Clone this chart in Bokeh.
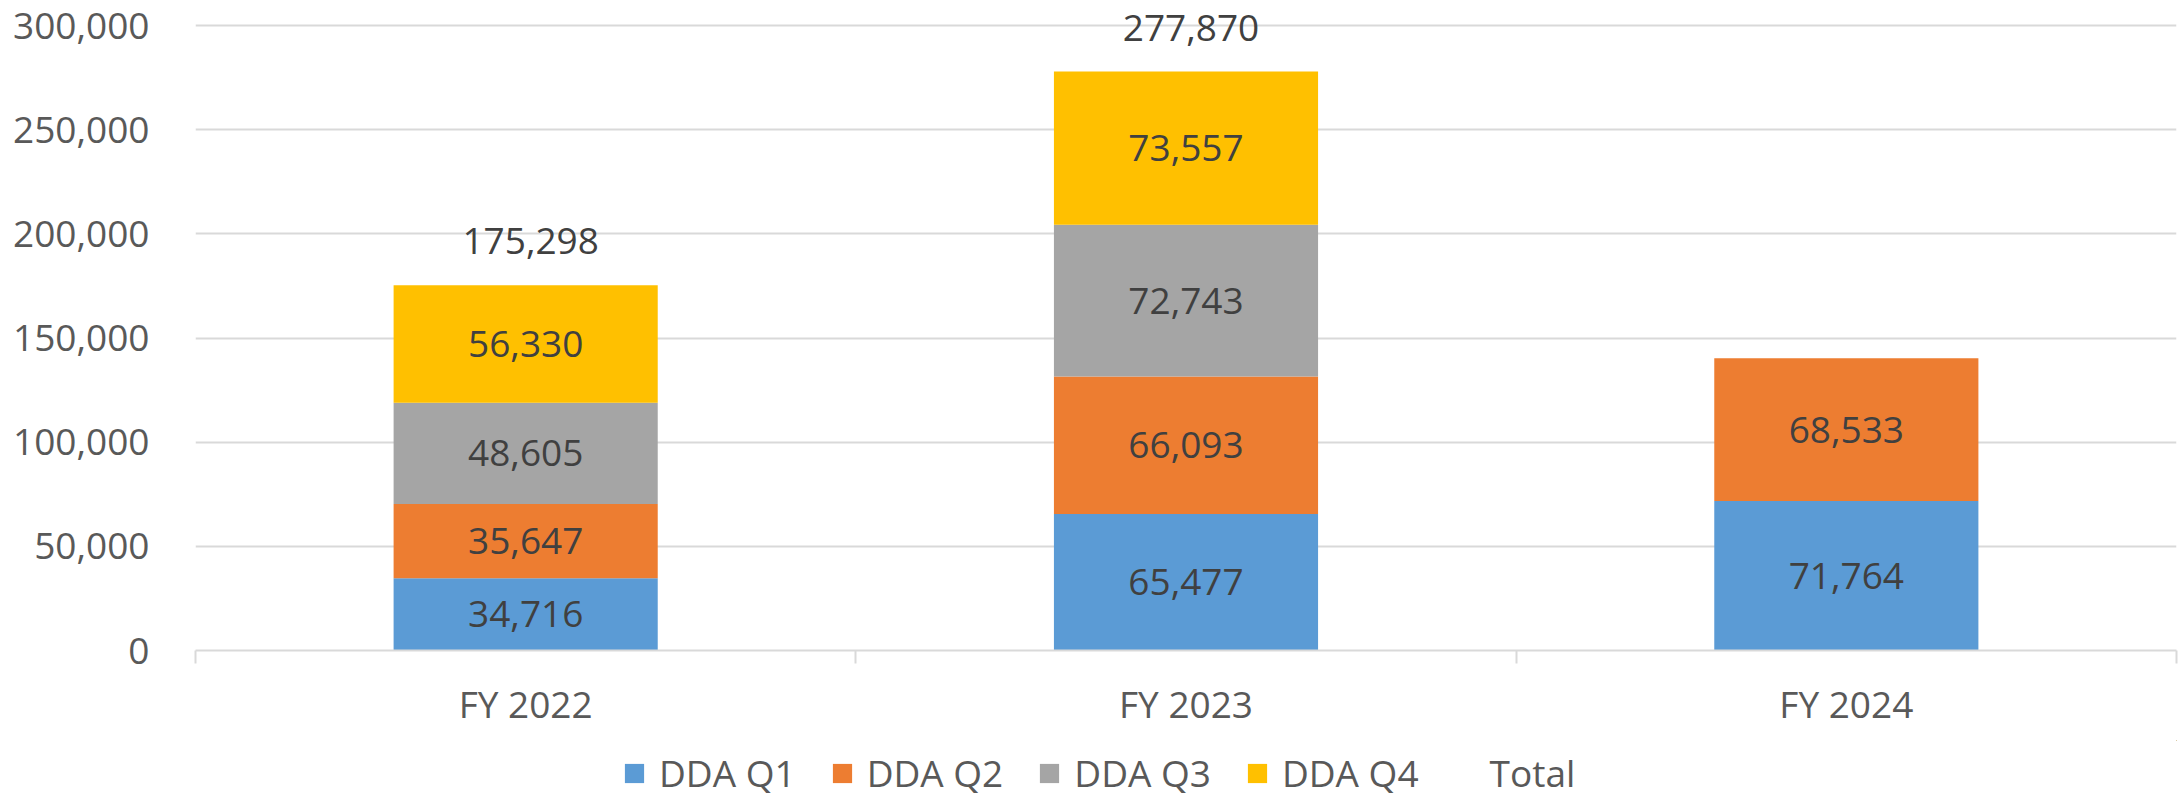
from bokeh.plotting import figure
from bokeh.layouts import column
from bokeh.models import (ColumnDataSource, Range1d, LinearAxis,
                          FixedTicker, NumeralTickFormatter, Legend, LegendItem)
from bokeh.core.properties import value
from bokeh.embed import file_html
from bokeh.resources import INLINE

# ---- data ----
years = ["FY 2022", "FY 2023", "FY 2024"]
series = ["DDA Q1", "DDA Q2", "DDA Q3", "DDA Q4"]
q1 = [34716, 65477, 71764]
q2 = [35647, 66093, 68533]
q3 = [48605, 72743, 0]
q4 = [56330, 73557, 0]
totals = [175298, 277870, None]
y_ticks = [0, 50000, 100000, 150000, 200000, 250000, 300000]
colors = ["#5B9BD5", "#ED7D31", "#A5A5A5", "#FFC000"]

FONT = "Open Sans"
FS = "37px"

# category slots: each year occupies one unit on the x scale
xpos = [i + 0.5 for i in range(len(years))]
bounds = list(range(len(years) + 1))

p = figure(width=2183, height=740, x_range=Range1d(0, len(years)), y_range=Range1d(0, 307200),
           output_backend="svg", toolbar_location=None, x_axis_location=None,
           min_border_left=195, min_border_right=7, min_border_top=10, min_border_bottom=90)
p.outline_line_color = None
p.xgrid.grid_line_color = None
p.ygrid.ticker = FixedTicker(ticks=y_ticks)
p.ygrid.grid_line_color = "#D9D9D9"
p.ygrid.grid_line_width = 2

# y axis
yax = p.yaxis[0]
yax.ticker = FixedTicker(ticks=y_ticks)
yax.formatter = NumeralTickFormatter(format="0,0")
yax.axis_line_color = None
yax.major_tick_line_color = None
yax.minor_tick_line_color = None
yax.major_label_standoff = 40
yax.major_label_text_font = FONT
yax.major_label_text_font_size = FS
yax.major_label_text_color = "#595959"

# x axis: labels at category centres, tick marks at category boundaries
cat_axis = LinearAxis(ticker=FixedTicker(ticks=xpos, minor_ticks=bounds),
                      major_label_overrides={x: y for x, y in zip(xpos, years)},
                      major_tick_line_color=None, major_tick_in=0, major_tick_out=0,
                      minor_tick_in=0, minor_tick_out=13, minor_tick_line_color="#D9D9D9",
                      minor_tick_line_width=2,
                      axis_line_color="#D9D9D9", axis_line_width=2,
                      major_label_text_font=FONT, major_label_text_font_size=FS,
                      major_label_text_color="#595959", major_label_standoff=14)
p.add_layout(cat_axis, "below")

# stacked bars
src = ColumnDataSource(dict(x=xpos, **{"DDA Q1": q1, "DDA Q2": q2, "DDA Q3": q3, "DDA Q4": q4}))
bars = p.vbar_stack(series, x="x", width=0.4, color=colors, line_color=None, source=src)

# segment labels
vals = [q1, q2, q3, q4]
lx, ly, lt = [], [], []
for i, xp in enumerate(xpos):
    base = 0
    for s in vals:
        v = s[i]
        if v:
            lx.append(xp)
            ly.append(base + v / 2)
            lt.append(f"{v:,}")
        base += v
p.text(x="x", y="y", text="t", source=ColumnDataSource(dict(x=lx, y=ly, t=lt)),
       text_align="center", text_baseline="middle", text_font=value(FONT),
       text_font_size=value(FS), text_color="#404040")

# totals
tx = [xp for xp, t in zip(xpos, totals) if t is not None]
ty = [t for t in totals if t is not None]
tsrc = ColumnDataSource(dict(x=tx, y=ty, t=[f"{t:,}" for t in ty]))
p.text(x="x", y="y", text="t", source=tsrc, text_align="center", text_baseline="middle",
       y_offset=-44, x_offset=5, text_font=value(FONT), text_font_size=value(FS), text_color="#404040")

# legend strip (same series drawn out of view, only their legend swatches show)
lg = figure(width=2183, height=58, x_range=Range1d(-3, -2), y_range=Range1d(-3, -2),
            output_backend="svg", toolbar_location=None, x_axis_location=None, y_axis_location=None,
            min_border_left=0, min_border_right=0, min_border_top=0, min_border_bottom=0)
lg.outline_line_color = None
lg.grid.visible = False
swatches = lg.vbar_stack(series, x="x", width=0.4, color=colors, line_color=None, source=src)
tot_r = lg.scatter(x="x", y="y", source=tsrc, size=1, fill_alpha=0, line_alpha=0)
items = [LegendItem(label=s, renderers=[r]) for s, r in zip(series, swatches)]
items.append(LegendItem(label="Total", renderers=[tot_r]))
legend = Legend(items=items, orientation="horizontal", location=(427, 0),
                glyph_width=24, glyph_height=24, label_standoff=13, spacing=34,
                label_text_font=FONT, label_text_font_size=FS, label_text_color="#595959",
                padding=0, margin=0, border_line_color=None, background_fill_alpha=0)
lg.add_layout(legend, "center")

open("out.html", "w").write(file_html(column(p, lg, spacing=0), INLINE))
